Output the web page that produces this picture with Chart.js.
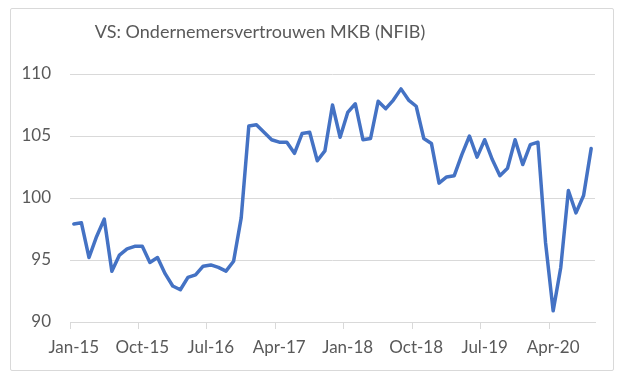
<!DOCTYPE html>
<html>
<head>
<meta charset="utf-8">
<script src="https://cdn.jsdelivr.net/npm/chart.js@4"></script>
<style>
  body { margin: 0; background: #fff; }
  #frame {
    position: absolute; left: 10px; top: 8px; width: 602px; height: 361px;
    border: 1px solid #d9d9d9; border-radius: 2px;
  }
  #wrap { position: absolute; left: 0; top: 0; width: 625px; height: 383px; }
</style>
</head>
<body>
<div id="frame"></div>
<div id="wrap"><canvas id="chart" width="625" height="383"></canvas></div>
<script>
// NFIB small business optimism, monthly
const monthNames = ['Jan', 'Feb', 'Mar', 'Apr', 'May', 'Jun', 'Jul', 'Aug', 'Sep', 'Oct', 'Nov', 'Dec'];
const years = ['15', '16', '17', '18', '19', '20'];

const values2015 = [97.9, 98.0, 95.2, 96.9, 98.3, 94.1, 95.4, 95.9, 96.1, 96.1, 94.8, 95.2];
const values2016 = [93.9, 92.9, 92.6, 93.6, 93.8, 94.5, 94.6, 94.4, 94.1, 94.9, 98.4, 105.8];
const values2017 = [105.9, 105.3, 104.7, 104.5, 104.5, 103.6, 105.2, 105.3, 103.0, 103.8, 107.5, 104.9];
const values2018 = [106.9, 107.6, 104.7, 104.8, 107.8, 107.2, 107.9, 108.8, 107.9, 107.4, 104.8, 104.4];
const values2019 = [101.2, 101.7, 101.8, 103.5, 105.0, 103.3, 104.7, 103.1, 101.8, 102.4, 104.7, 102.7];
const values2020 = [104.3, 104.5, 96.4, 90.9, 94.4, 100.6, 98.8, 100.2, 104.0];

const tickLabels = ['Jan-15', 'Oct-15', 'Jul-16', 'Apr-17', 'Jan-18', 'Oct-18', 'Jul-19', 'Apr-20'];

const values = [].concat(values2015, values2016, values2017, values2018, values2019, values2020);

const months = [];
years.forEach(y => {
  monthNames.forEach(m => {
    if (months.length < values.length) months.push(m + '-' + y);
  });
});

const grey = '#d9d9d9';
const textColor = '#595959';
const font = 'Lato, "Open Sans", sans-serif';
const titleText = 'VS: Ondernemersvertrouwen MKB (NFIB)';

// title sits a bit left of the centre, like the original
const titlePlugin = {
  id: 'offsetTitle',
  afterDraw(chart) {
    const ctx = chart.ctx;
    ctx.save();
    ctx.font = '18px ' + font;
    ctx.fillStyle = textColor;
    ctx.textAlign = 'center';
    ctx.textBaseline = 'middle';
    ctx.fillText(titleText, 260, 32);
    ctx.restore();
  }
};

new Chart(document.getElementById('chart'), {
  type: 'line',
  data: {
    labels: months,
    datasets: [{
      data: values,
      borderColor: '#4472c4',
      borderWidth: 3.5,
      borderJoinStyle: 'round',
      borderCapStyle: 'round',
      pointRadius: 0,
      tension: 0
    }]
  },
  options: {
    responsive: false,
    animation: false,
    layout: { padding: { left: 0, right: 30, top: 74, bottom: 0 } },
    plugins: {
      legend: { display: false },
      tooltip: { enabled: false },
      title: { display: false }
    },
    scales: {
      x: {
        offset: true,
        grid: {
          offset: true,
          drawOnChartArea: false,
          color: ctx => (ctx.index % 9 === 0 ? grey : 'rgba(0,0,0,0)'),
          tickLength: 7
        },
        border: { color: grey },
        ticks: {
          autoSkip: false,
          maxRotation: 0,
          color: textColor,
          font: { family: font, size: 17 },
          padding: 8,
          callback: function (val, i) {
            const lbl = months[i];
            return tickLabels.includes(lbl) ? lbl : '';
          }
        },
        afterFit: function (scale) { scale.height = 61; }
      },
      y: {
        min: 90,
        max: 110,
        grid: { color: grey, drawTicks: false },
        border: { display: false },
        ticks: {
          stepSize: 5,
          color: textColor,
          font: { family: font, size: 17 },
          padding: 19
        },
        afterFit: function (scale) { scale.width = 70; }
      }
    }
  },
  plugins: [titlePlugin]
});
</script>
</body>
</html>
